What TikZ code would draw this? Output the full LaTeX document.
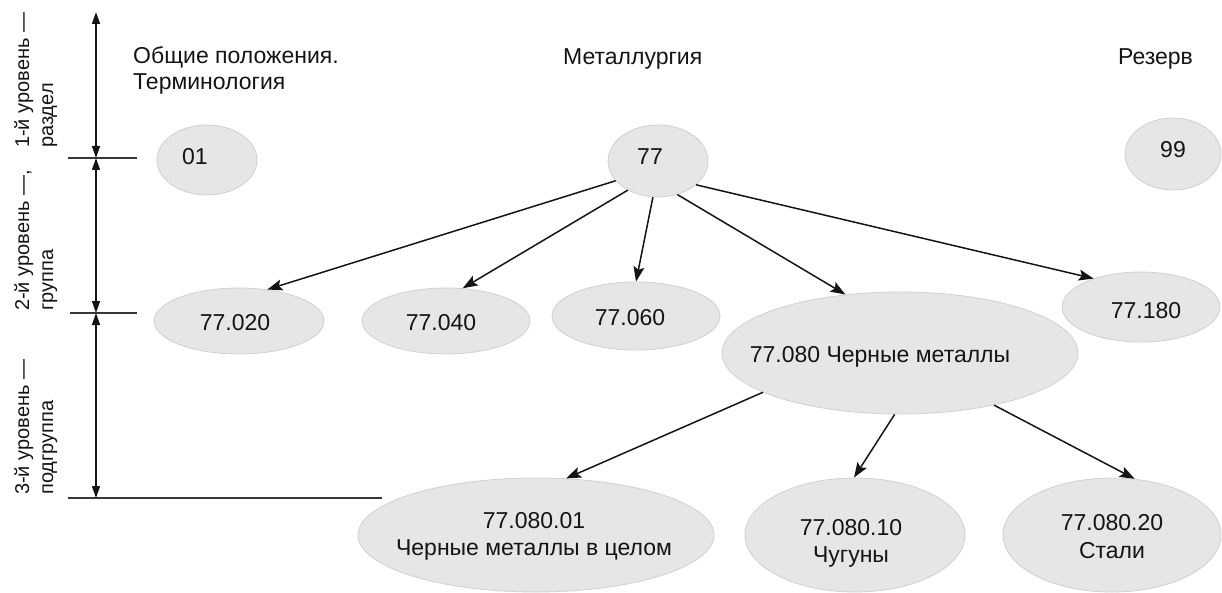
\documentclass[tikz,border=0pt]{standalone}
\usepackage{fontspec}
\setmainfont{Liberation Sans}
\usetikzlibrary{arrows.meta,shapes.geometric}
\definecolor{ellfill}{HTML}{E6E6E6}
\definecolor{elldraw}{HTML}{D0D0D0}
\definecolor{ink}{HTML}{141414}
\begin{document}
\begin{tikzpicture}[x=1pt,y=-1pt,
  ell/.style={ellipse, fill=ellfill, draw=elldraw, line width=0.8pt, inner sep=0pt},
  txt/.style={font=\fontsize{23}{27}\selectfont, text=ink, inner sep=0pt, anchor=base},
  head/.style={font=\fontsize{23}{27}\selectfont, text=ink, inner sep=0pt, anchor=base west},
  lbl/.style={font=\fontsize{20}{24}\selectfont, text=ink, inner sep=0pt, rotate=90, anchor=base west},
  conn/.style={draw=ink, line width=1.5pt, -{Stealth[length=15pt,width=11pt,inset=3pt]}},
  axis/.style={draw=ink, line width=1.5pt, {Triangle[length=12pt,width=8pt]}-{Triangle[length=12pt,width=8pt]}},
  tickline/.style={draw=ink!85, line width=1.5pt}]
\useasboundingbox (0,0) rectangle (1222,593);

% level scale
\coordinate (top) at (96,12);
\coordinate (t1) at (96,158);
\coordinate (t2) at (96,313);
\coordinate (t3) at (96,498);
\coordinate (k1a) at (68,158); \coordinate (k1b) at (137,158);
\coordinate (k2a) at (70,313); \coordinate (k2b) at (137,313);
\coordinate (k3a) at (68,498); \coordinate (k3b) at (382,498);
\draw[axis] (top) -- (t1);
\draw[axis] (t1) -- (t2);
\draw[axis] (t2) -- (t3);
\draw[tickline] (k1a) -- (k1b);
\draw[tickline] (k2a) -- (k2b);
\draw[tickline] (k3a) -- (k3b);

\node[lbl] (l1a) at (29,148) {1-й уровень —};
\node[lbl] (l1b) at (53,148) {раздел};
\node[lbl] (l2a) at (29,311) {2-й уровень —,};
\node[lbl] (l2b) at (53,311) {группа};
\node[lbl] (l3a) at (29,495) {3-й уровень —};
\node[lbl] (l3b) at (53,495) {подгруппа};

% headings
\node[head] (h1a) at (133,64) {Общие положения.};
\node[head] (h1b) at (133,90) {Терминология};
\node[head] (h2) at (563,65) {Металлургия};
\node[head] (h3) at (1118,65) {Резерв};

% ellipses
\node[ell, minimum width=100, minimum height=70] (e01) at (207,160) {};
\node[ell, minimum width=100, minimum height=72] (e77) at (658,161) {};
\node[ell, minimum width=96, minimum height=72] (e99) at (1173,154) {};
\node[ell, minimum width=170, minimum height=66] (e020) at (239,321) {};
\node[ell, minimum width=168, minimum height=66] (e040) at (446,321) {};
\node[ell, minimum width=168, minimum height=68] (e060) at (636,316) {};
\node[ell, minimum width=158, minimum height=70] (e180) at (1141,307) {};
\node[ell, minimum width=356, minimum height=122] (e080) at (900,353) {};
\node[ell, minimum width=356, minimum height=114] (e0801) at (536,535) {};
\node[ell, minimum width=220, minimum height=114] (e0810) at (855,535) {};
\node[ell, minimum width=218, minimum height=114] (e0820) at (1112,535) {};

% texts
\node[txt] (x01) at (195,165) {01};
\node[txt] (x77) at (650,165) {77};
\node[txt] (x99) at (1173,158) {99};
\node[txt] (x020) at (235,330) {77.020};
\node[txt] (x040) at (441,330) {77.040};
\node[txt] (x060) at (630,325) {77.060};
\node[txt] (x180) at (1146,318) {77.180};
\node[txt] (x080) at (880,362) {77.080 Черные металлы};
\node[txt] (x0801a) at (534,528) {77.080.01};
\node[txt] (x0801b) at (534,555) {Черные металлы в целом};
\node[txt] (x0810a) at (851,535) {77.080.10};
\node[txt] (x0810b) at (851,562) {Чугуны};
\node[txt] (x0820a) at (1112,530) {77.080.20};
\node[txt] (x0820b) at (1112,558) {Стали};

% connectors
\draw[conn] (e77.205) -- (e020.48);
\draw[conn] (e77.224) -- (e040.63);
\draw[conn] (e77.262) -- (e060.90);
\draw[conn] (e77.300) -- (e080.133);
\draw[conn] (e77.328) -- (e180.149);
\draw[conn] (e080.196) -- (e0801.62);
\draw[conn] (e080.265) -- (e0810.91);
\draw[conn] (e080.331) -- (e0820.68);
\end{tikzpicture}
\end{document}
